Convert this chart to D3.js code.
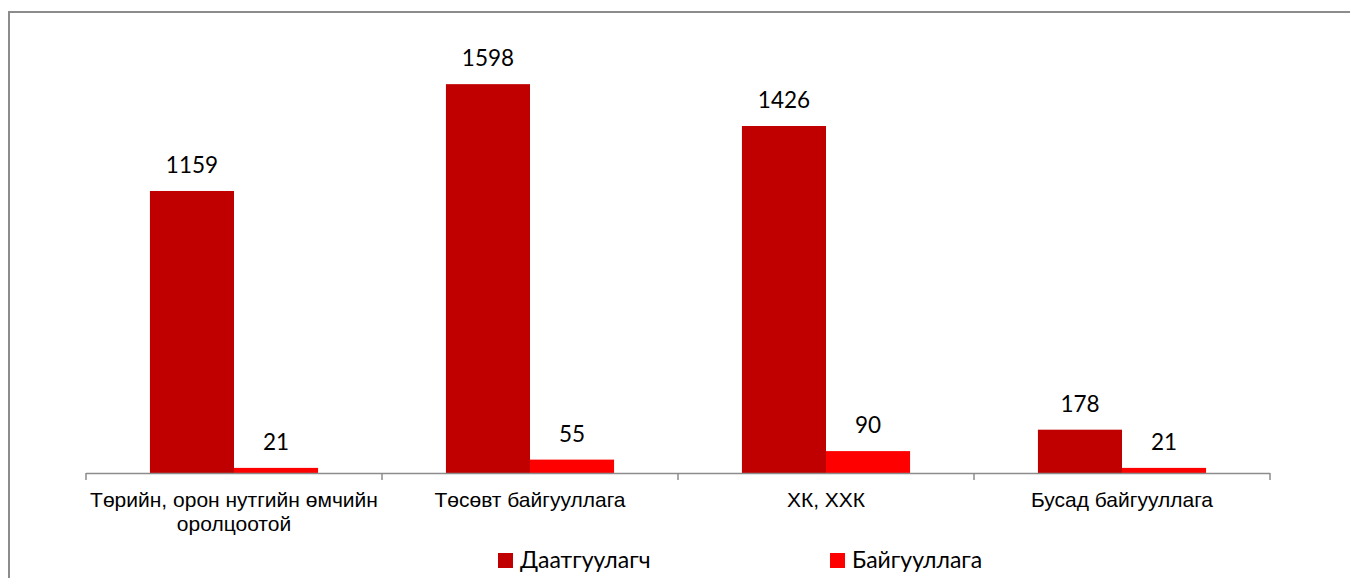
<!DOCTYPE html>
<html>
<head>
<meta charset="utf-8">
<script src="https://cdn.jsdelivr.net/npm/d3@7"></script>
<style>
    html, body { margin: 0; padding: 0; background: #fff; }
    #chart { width: 1350px; height: 578px; }
</style>
</head>
<body>
<div id="chart"></div>
<script>

// Chart data
const categories = [
    ["Төрийн, орон нутгийн өмчийн", "оролцоотой"],
    ["Төсөвт байгууллага"],
    ["ХК, ХХК"],
    ["Бусад байгууллага"]
];
const seriesNames = ["Даатгуулагч", "Байгууллага"];
const insured = [1159, 1598, 1426, 178];
const organisations = [21, 55, 90, 21];
const colours = ["#C00000", "#FF0000"];

const width = 1350;
const height = 578;

const svg = d3.select("#chart").append("svg")
    .attr("width", width)
    .attr("height", height);

// Outer frame (only top-left visible in the original)
svg.append("rect")
    .attr("x", 9)
    .attr("y", 12)
    .attr("width", width)
    .attr("height", height)
    .attr("fill", "none")
    .attr("stroke", "#8c8c8c")
    .attr("stroke-width", 2);

// Scales
const x = d3.scaleBand()
    .domain(d3.range(categories.length))
    .range([86, 1270])
    .paddingInner(0)
    .paddingOuter(0);

const y = d3.scaleLinear()
    .domain([0, 1800])
    .range([473, 35]);

const barWidth = x.bandwidth() * 0.284;
const offset = (x.bandwidth() - 2 * barWidth) / 2;

const series = [insured, organisations];

series.forEach(function(values, s) {
    const g = svg.append("g").attr("class", "series-" + s);

    g.selectAll("rect")
        .data(values)
        .enter().append("rect")
        .attr("x", (d, i) => x(i) + offset + s * barWidth)
        .attr("y", (d) => y(d))
        .attr("width", barWidth)
        .attr("height", (d) => y(0) - y(d))
        .attr("fill", colours[s]);

    g.selectAll("text")
        .data(values)
        .enter().append("text")
        .attr("x", (d, i) => x(i) + offset + s * barWidth + barWidth / 2)
        .attr("y", (d) => y(d) - 18)
        .attr("text-anchor", "middle")
        .style("font-family", "Lato, 'Open Sans', sans-serif")
        .style("font-size", "22.5px")
        .style("fill", "#000")
        .text((d) => d);
});

// X axis with ticks between categories
const axis = svg.append("g");
axis.append("line")
    .attr("x1", x.range()[0])
    .attr("x2", x.range()[1])
    .attr("y1", y(0) + 0.5)
    .attr("y2", y(0) + 0.5)
    .attr("stroke", "#8c8c8c")
    .attr("stroke-width", 1.5);

const tickPositions = d3.range(categories.length + 1).map((i) => x.range()[0] + i * x.step());
axis.selectAll(".tick")
    .data(tickPositions)
    .enter().append("line")
    .attr("class", "tick")
    .attr("x1", (d) => d)
    .attr("x2", (d) => d)
    .attr("y1", y(0))
    .attr("y2", y(0) + 7)
    .attr("stroke", "#8c8c8c")
    .attr("stroke-width", 1.5);

const catLabels = axis.selectAll(".cat")
    .data(categories)
    .enter().append("text")
    .attr("class", "cat")
    .attr("text-anchor", "middle")
    .style("font-family", "'Liberation Sans', Arial, sans-serif")
    .style("font-size", "21px")
    .style("fill", "#000");

catLabels.selectAll("tspan")
    .data((d, i) => d.map((line) => ({ line: line, i: i })))
    .enter().append("tspan")
    .attr("x", (d) => x(d.i) + x.bandwidth() / 2)
    .attr("y", (d, j) => 507 + j * 24)
    .text((d) => d.line);

// Legend
const legendX = [498, 830];
const legend = svg.selectAll(".legend")
    .data(seriesNames)
    .enter().append("g")
    .attr("class", "legend")
    .attr("transform", (d, i) => "translate(" + legendX[i] + ",553)");

legend.append("rect")
    .attr("width", 15)
    .attr("height", 15)
    .attr("fill", (d, i) => colours[i]);

legend.append("text")
    .attr("x", 22)
    .attr("y", 15)
    .style("font-family", "Lato, 'Open Sans', sans-serif")
    .style("font-size", "23px")
    .style("fill", "#000")
    .text((d) => d);

</script>
</body>
</html>
